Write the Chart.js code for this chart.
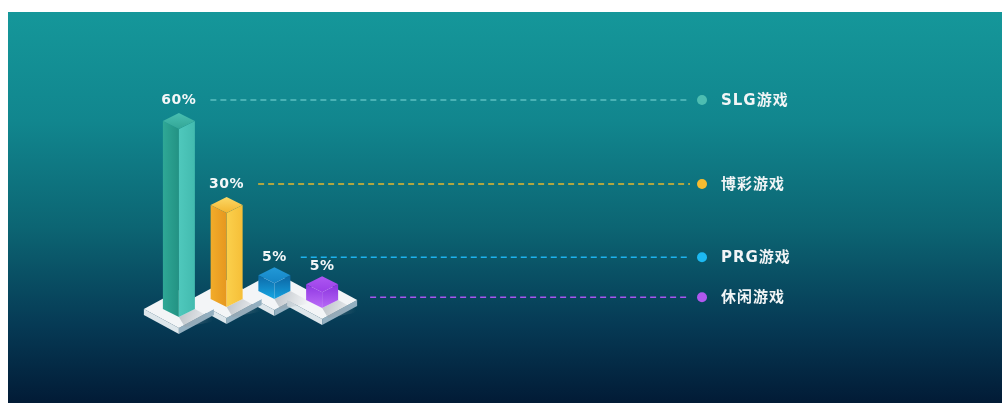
<!DOCTYPE html>
<html lang="zh">
<head>
<meta charset="utf-8">
<title>游戏类型占比</title>
<script src="https://cdn.jsdelivr.net/npm/chart.js@4.4.1/dist/chart.umd.min.js"></script>
<style>
  body { margin: 0; background: #fff; }
  #bg {
    position: absolute; left: 8px; top: 12px; width: 994px; height: 391px;
    background: linear-gradient(180deg, #15979a 0%, #11868e 28%, #0c6573 55%, #063a55 80%, #021b36 100%);
  }
  #wrap { position: absolute; left: 0; top: 0; width: 1002px; height: 403px; }
</style>
</head>
<body>
<div id="bg"></div>
<div id="wrap"><canvas id="c" width="1002" height="403"></canvas></div>

<script>
// data
const categories = ['SLG游戏', '博彩游戏', 'PRG游戏', '休闲游戏'];
const shares = [60, 30, 5, 5];
const valueLabels = ['60%', '30%', '5%', '5%'];

// colours for each prism (tall bars shade left/right, small cubes shade top->bottom)
const palette = [
  { left: ['#2fa896', '#239283'], right: ['#4fc8bc', '#43bbaf'], top: ['#49bfb1', '#33a696'], vertical: false, line: 'rgba(110,205,205,0.8)', dot: '#4dbdb1' },
  { left: ['#f2ac2a', '#e6971f'], right: ['#fbd04c', '#f6bf38'], top: ['#fbd866', '#f3b52f'], vertical: false, line: '#e8b72e', dot: '#f7bb2f' },
  { left: ['#0c69a8', '#17a6e2'], right: ['#0c65a2', '#15a0de'], top: ['#2299d7', '#1484c5'], vertical: true, line: '#1db2ee', dot: '#1cb9f2' },
  { left: ['#8f36e2', '#bb6df7'], right: ['#8a33de', '#b768f6'], top: ['#ad57f2', '#9a3fe7'], vertical: true, line: '#a854ef', dot: '#b058ef' }
];

// isometric layout
const stepY = [0, -10, -18, -9];   // zig-zag of the platform tiles
const TILE_W = 35, TILE_H = 19, TILE_T = 6;
const BAR_W = 16, BAR_H = 8;

function poly(ctx, pts, fill) {
  ctx.beginPath();
  ctx.moveTo(pts[0][0], pts[0][1]);
  for (let k = 1; k < pts.length; k++) ctx.lineTo(pts[k][0], pts[k][1]);
  ctx.closePath();
  ctx.fillStyle = fill;
  ctx.fill();
}

function grad(ctx, x0, y0, x1, y1, a, b) {
  const g = ctx.createLinearGradient(x0, y0, x1, y1);
  g.addColorStop(0, a);
  g.addColorStop(1, b);
  return g;
}

function tile(ctx, x, y) {
  const w = TILE_W, h = TILE_H, t = TILE_T;
  poly(ctx, [[x - w, y], [x, y + h], [x, y + h + t], [x - w, y + t]], '#dde6eb');
  poly(ctx, [[x, y + h], [x + w, y], [x + w, y + t], [x, y + h + t]], '#93afc0');
  poly(ctx, [[x, y - h], [x + w, y], [x, y + h], [x - w, y]], '#f3f5f7');
}

function shadow(ctx, x, base) {
  const g = grad(ctx, x, base, x + 34, base + 12, 'rgba(150,158,166,0.6)', 'rgba(150,158,166,0)');
  poly(ctx, [[x, base + BAR_H], [x + BAR_W, base], [x + BAR_W + 22, base + 12], [x + 6, base + BAR_H + 10]], g);
}

function prism(ctx, x, top, base, c) {
  const w = BAR_W, h = BAR_H;
  const lg = c.vertical ? grad(ctx, 0, top, 0, base + h, c.left[0], c.left[1]) : grad(ctx, x - w, 0, x, 0, c.left[0], c.left[1]);
  const rg = c.vertical ? grad(ctx, 0, top, 0, base + h, c.right[0], c.right[1]) : grad(ctx, x, 0, x + w, 0, c.right[0], c.right[1]);
  poly(ctx, [[x - w, top], [x, top + h], [x, base + h], [x - w, base]], lg);
  poly(ctx, [[x, top + h], [x + w, top], [x + w, base], [x, base + h]], rg);
  poly(ctx, [[x, top - h], [x + w, top], [x, top + h], [x - w, top]], grad(ctx, x, top - h, x, top + h, c.top[0], c.top[1]));
}

const isoPlugin = {
  id: 'iso',
  afterDatasetsDraw(chart) {
    const ctx = chart.ctx;
    const meta = chart.getDatasetMeta(0);
    const zero = chart.scales.y.getPixelForValue(0);
    const items = meta.data.map((el, i) => {
      const base = zero + stepY[i];
      return { i: i, x: el.x, base: base, top: base - (zero - el.y) };
    });
    const backToFront = items.slice().sort((a, b) => a.base - b.base);

    ctx.save();
    backToFront.forEach(it => tile(ctx, it.x, it.base));
    items.forEach(it => shadow(ctx, it.x, it.base));
    backToFront.forEach(it => prism(ctx, it.x, it.top, it.base, palette[it.i]));

    let prev = -Infinity;
    items.forEach(it => {
      const c = palette[it.i];
      const labelY = it.top - BAR_H - (shares[it.i] > 10 ? 13 : 10);
      ctx.font = 'bold 14px "DejaVu Sans", sans-serif';
      ctx.letterSpacing = '0.5px';
      ctx.fillStyle = '#f4f7f8';
      ctx.textAlign = 'center';
      ctx.textBaseline = 'middle';
      ctx.fillText(valueLabels[it.i], it.x, labelY);
      const labelRight = it.x + ctx.measureText(valueLabels[it.i]).width / 2;

      const rowY = Math.max(labelY, prev + 40);
      const startX = rowY === labelY ? labelRight + 14 : it.x + TILE_W + 13;
      prev = rowY;

      ctx.beginPath();
      ctx.setLineDash([6, 4]);
      ctx.lineWidth = 1.5;
      ctx.strokeStyle = c.line;
      ctx.moveTo(startX, rowY);
      ctx.lineTo(690, rowY);
      ctx.stroke();
      ctx.setLineDash([]);

      ctx.beginPath();
      ctx.arc(702, rowY, 5, 0, Math.PI * 2);
      ctx.fillStyle = c.dot;
      ctx.fill();

      ctx.font = 'bold 15px "DejaVu Sans", "Noto Sans CJK SC", sans-serif';
      ctx.letterSpacing = '1px';
      ctx.textAlign = 'left';
      ctx.fillStyle = '#f2f5f6';
      ctx.fillText(categories[it.i], 721, rowY + 1);
    });
    ctx.restore();
  }
};

new Chart(document.getElementById('c'), {
  type: 'bar',
  data: {
    labels: categories,
    datasets: [{
      data: shares,
      backgroundColor: 'rgba(0,0,0,0)',
      borderWidth: 0
    }]
  },
  options: {
    responsive: false,
    animation: false,
    layout: { padding: { left: 155, right: 656, top: 121, bottom: 94 } },
    scales: {
      x: { display: false },
      y: { display: false, min: 0, max: Math.max(...shares) }
    },
    plugins: { legend: { display: false }, tooltip: { enabled: false } }
  },
  plugins: [isoPlugin]
});
</script>
</body>
</html>
